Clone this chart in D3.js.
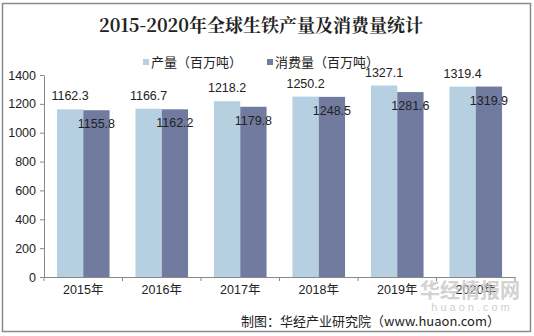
<!DOCTYPE html>
<html><head><meta charset="utf-8">
<script src="https://cdn.jsdelivr.net/npm/d3@7"></script>
<style>body{margin:0;background:#fff}svg{display:block}</style>
</head><body><svg id="c" width="534" height="336"></svg>
<script>
const categories = ["2015年","2016年","2017年","2018年","2019年","2020年"];
const production = [1162.3,1166.7,1218.2,1250.2,1327.1,1319.4];
const consumption = [1155.8,1162.2,1179.8,1248.5,1281.6,1319.9];
const seriesNames = ["产量（百万吨）","消费量（百万吨）"];
const yTicks = [0,200,400,600,800,1000,1200,1400];

const svg = d3.select("#c");
const font = "'Liberation Sans', Arial, 'Noto Sans CJK SC', sans-serif";
const cjk = "'Noto Sans CJK SC', sans-serif";
const colors = ["#b6d0e2","#707b9f"];

svg.append("rect").attr("x",2.5).attr("y",3.5).attr("width",528).attr("height",328)
  .attr("fill","#fff").attr("stroke","#8a8a8a").attr("stroke-width",1.5);

svg.append("text").attr("x",261).attr("y",32).attr("text-anchor","middle")
  .attr("font-family","'Noto Serif CJK SC','Noto Sans CJK SC',serif").attr("font-weight","bold")
  .attr("font-size",18).attr("fill","#222").text("2015-2020年全球生铁产量及消费量统计");

const x0 = d3.scaleBand().domain(categories).range([44,515]).paddingInner(0.33).paddingOuter(0.165);
const x1 = d3.scaleBand().domain([0,1]).range([0,x0.bandwidth()]);
const y = d3.scaleLinear().domain([0,1400]).range([277,75]);

// legend
const leg = [{x:143,t:seriesNames[0]},{x:267,t:seriesNames[1]}];
leg.forEach((l,i)=>{
  svg.append("rect").attr("x",l.x).attr("y",59).attr("width",6).attr("height",6).attr("fill",colors[i]);
  svg.append("text").attr("x",l.x+8).attr("y",66.5).attr("font-family",cjk).attr("font-size",13)
    .attr("fill","#222").text(l.t);
});

// axes
const ya = d3.axisLeft(y).tickValues(yTicks).tickFormat(d3.format("d")).tickSize(4).tickSizeOuter(0);
const gy = svg.append("g").attr("transform","translate(44,0)").call(ya);
gy.select(".domain").attr("stroke","#888");
gy.selectAll(".tick line").attr("stroke","#888");
gy.selectAll("text").attr("font-family",font).attr("font-size",12.5).attr("fill","#222").attr("x",-8);

const xa = d3.axisBottom(x0).tickSize(0).tickSizeOuter(0);
const gx = svg.append("g").attr("transform","translate(0,277)").call(xa);
gx.select(".domain").attr("stroke","#888");
gx.selectAll("text").attr("font-family",font).attr("font-size",12.5).attr("fill","#222").attr("dy","1.1em");
// boundary ticks
const bounds = d3.range(categories.length+1).map(i=>44 + i*(515-44)/categories.length);
svg.append("g").selectAll("line").data(bounds).join("line")
  .attr("x1",d=>d).attr("x2",d=>d).attr("y1",277).attr("y2",281).attr("stroke","#888");

const data = categories.map((c,i)=>({c, v:[production[i],consumption[i]]}));
const g = svg.append("g");
data.forEach(d=>{
  d.v.forEach((v,k)=>{
    const bx = x0(d.c)+x1(k);
    g.append("rect").attr("x",bx).attr("y",y(v)).attr("width",x1.bandwidth()).attr("height",277-y(v)).attr("fill",colors[k]);
  });
});
data.forEach(d=>{
  d.v.forEach((v,k)=>{
    const cx = x0(d.c)+x1(k)+x1.bandwidth()/2;
    g.append("text").attr("x",cx).attr("y",k===0? y(v)-9 : y(v)+18).attr("text-anchor","middle")
      .attr("font-family",font).attr("font-size",12.5).attr("fill","#222").text(v.toFixed(1));
  });
});

// watermark
svg.append("text").attr("x",470).attr("y",298).attr("text-anchor","middle").attr("font-family",cjk)
  .attr("font-weight","bold").attr("font-size",20).attr("fill","#c8c8c8").attr("opacity",0.8).text("华经情报网");
svg.append("text").attr("x",472).attr("y",311).attr("text-anchor","middle").attr("font-family",font)
  .attr("font-size",11).attr("letter-spacing",3).attr("fill","#d0d0d0").text("huaon.com");

svg.append("text").attr("x",500).attr("y",326).attr("text-anchor","end").attr("font-family",cjk)
  .attr("font-size",13).attr("fill","#222").text("制图：华经产业研究院（www.huaon.com）");
</script></body></html>
